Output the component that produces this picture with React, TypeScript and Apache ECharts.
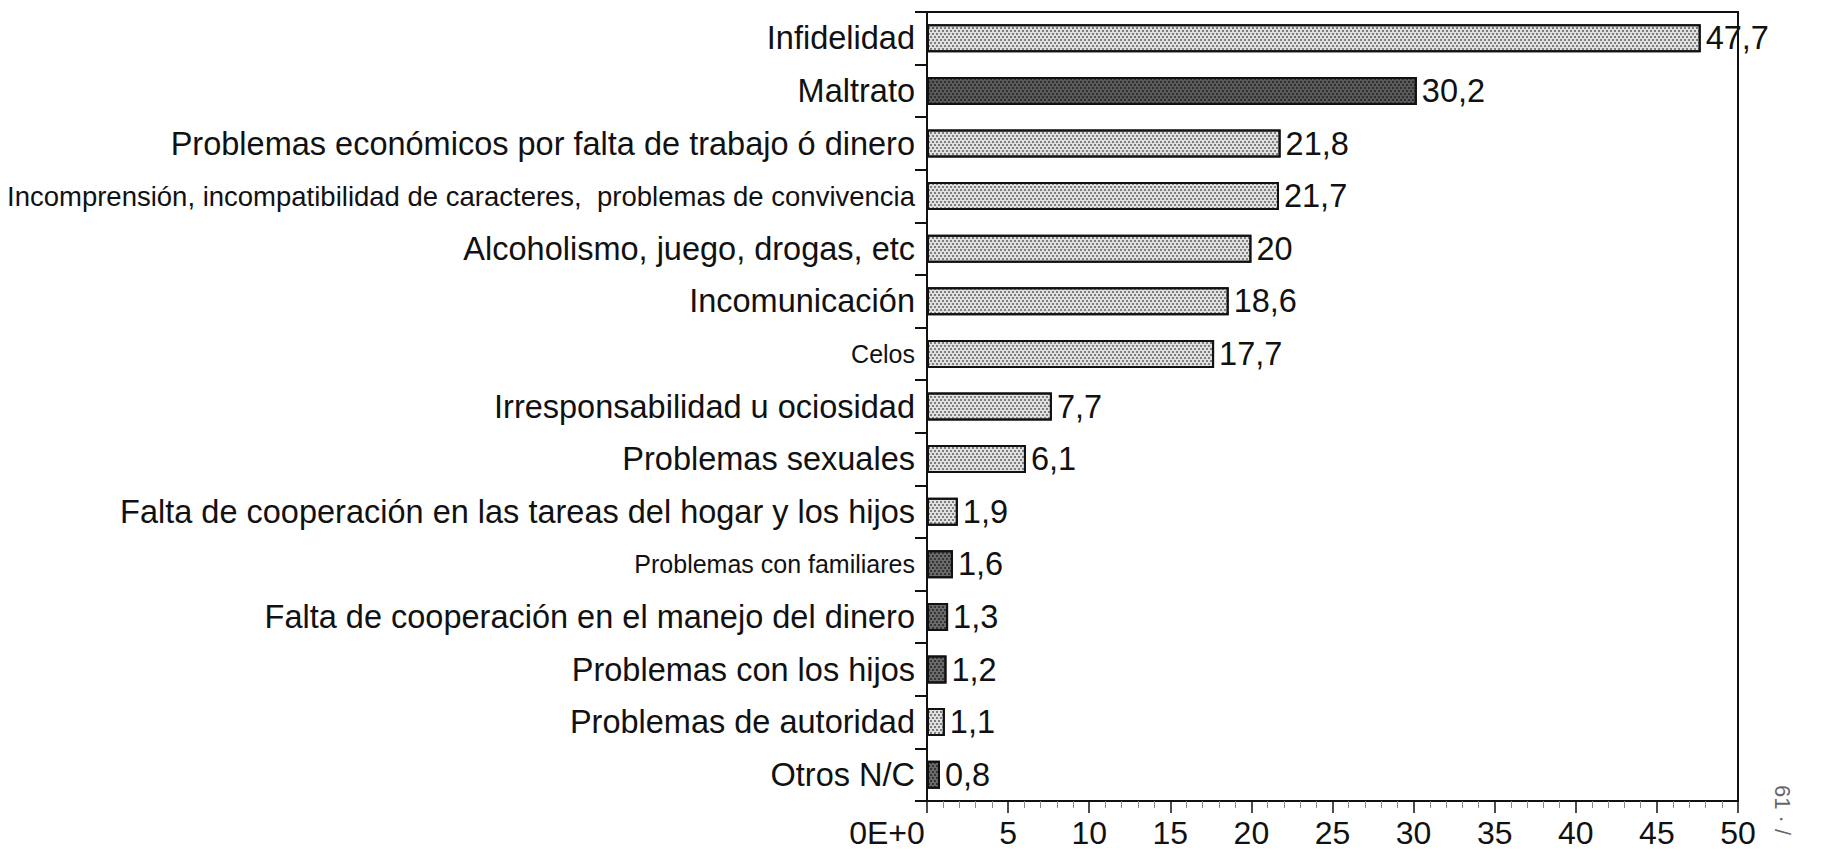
import React, { useEffect, useRef } from "react";
import * as echarts from "echarts";

const categories = [
  "Infidelidad",
  "Maltrato",
  "Problemas económicos por falta de trabajo ó dinero",
  "Incomprensión, incompatibilidad de caracteres,  problemas de convivencia",
  "Alcoholismo, juego, drogas, etc",
  "Incomunicación",
  "Celos",
  "Irresponsabilidad u ociosidad",
  "Problemas sexuales",
  "Falta de cooperación en las tareas del hogar y los hijos",
  "Problemas con familiares",
  "Falta de cooperación en el manejo del dinero",
  "Problemas con los hijos",
  "Problemas de autoridad",
  "Otros N/C",
];

const values = [47.7, 30.2, 21.8, 21.7, 20, 18.6, 17.7, 7.7, 6.1, 1.9, 1.6, 1.3, 1.2, 1.1, 0.8];

// shade of each bar: "light" dotted or "dark"
const shades = [
  "light", "dark", "light", "light", "light", "light", "light", "light",
  "light", "light", "dark", "dark", "dark", "light", "dark",
];

const xTicks = [0, 5, 10, 15, 20, 25, 30, 35, 40, 45, 50];

const FONT = "'Liberation Sans', Arial, Helvetica, sans-serif";

const labelStyleKey: Record<string, string> = {
  "Incomprensión, incompatibilidad de caracteres,  problemas de convivencia": "mid",
  "Celos": "small",
  "Problemas con familiares": "small",
};

export default function App() {
  const ref = useRef<HTMLDivElement>(null);
  useEffect(() => {
    if (!ref.current) return;
    const chart = echarts.init(ref.current, undefined, { renderer: "svg" });
    const lightDecal = {
      symbol: "rect",
      symbolSize: 1,
      dashArrayX: [[2, 2], [0, 2, 2, 0]],
      dashArrayY: [2, 1],
      rotation: 0,
      color: "rgba(60,60,60,0.6)",
    };
    const darkDecal = {
      symbol: "rect",
      symbolSize: 1,
      dashArrayX: [[2, 2], [0, 2, 2, 0]],
      dashArrayY: [2, 1],
      rotation: 0,
      color: "rgba(20,20,20,0.6)",
    };
    const data = values.map((v, i) => {
      const dark = shades[i] === "dark";
      return {
        value: v,
        itemStyle: {
          color: dark ? (i === 1 ? "#5a5a5a" : "#6a6a6a") : "#e0e0e0",
          borderColor: "#111",
          borderWidth: 2,
          decal: dark ? darkDecal : lightDecal,
        },
      };
    });
    chart.setOption({
      animation: false,
      backgroundColor: "#ffffff",
      textStyle: { fontFamily: FONT },
      grid: {
        left: 927,
        right: 83,
        top: 12,
        bottom: 54,
        show: true,
        borderColor: "#111",
        borderWidth: 2,
        containLabel: false,
      },
      xAxis: {
        type: "value",
        min: xTicks[0],
        max: xTicks[xTicks.length - 1],
        interval: 5,
        splitLine: { show: false },
        axisLine: { show: true, lineStyle: { color: "#111", width: 2 } },
        axisTick: { show: true, length: 12, lineStyle: { color: "#111", width: 1.5 } },
        minorTick: { show: true, splitNumber: 5, length: 7, lineStyle: { color: "#888", width: 1 } },
        axisLabel: {
          margin: 16,
          fontSize: 32,
          color: "#111",
          fontFamily: FONT,
          formatter: (v: number) => (v === 0 ? "{z|0E+0}" : String(v)),
          rich: {
            z: { fontSize: 32, fontFamily: FONT, color: "#111", padding: [0, 80, 0, 0] },
          },
        },
      },
      yAxis: {
        type: "category",
        data: categories,
        inverse: true,
        axisLine: { show: true, lineStyle: { color: "#111", width: 2 } },
        axisTick: { show: true, length: 12, lineStyle: { color: "#111", width: 2 } },
        axisLabel: {
          margin: 12,
          color: "#111",
          fontFamily: FONT,
          fontSize: 32.5,
          formatter: (v: string) => `{${labelStyleKey[v] || "big"}|${v}}`,
          rich: {
            big: { fontSize: 32.5, fontFamily: FONT, color: "#111" },
            mid: { fontSize: 27.5, fontFamily: FONT, color: "#111" },
            small: { fontSize: 25, fontFamily: FONT, color: "#111" },
          },
        },
      },
      series: [
        {
          type: "bar",
          data,
          barWidth: 28,
          label: {
            show: true,
            position: "right",
            distance: 5,
            fontSize: 32.5,
            color: "#111",
            fontFamily: FONT,
            formatter: (p: any) => String(p.value).replace(".", ","),
          },
        },
      ],
      graphic: [
        {
          type: "text",
          x: 1782,
          y: 810,
          rotation: -Math.PI / 2,
          style: {
            text: "61 · /",
            fontSize: 22,
            fontFamily: FONT,
            fill: "#666",
            align: "center",
            verticalAlign: "middle",
          },
        },
      ],
    });
    return () => chart.dispose();
  }, []);
  return (
    <div
      ref={ref}
      style={{ position: "fixed", left: 0, top: 0, width: 1821, height: 855, background: "#fff" }}
    />
  );
}
